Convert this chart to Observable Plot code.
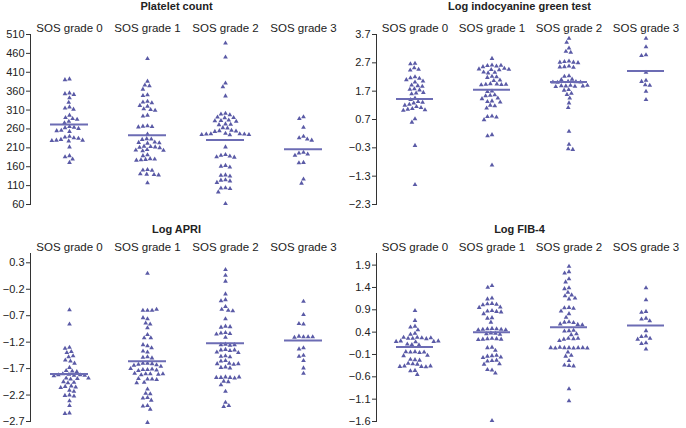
<!DOCTYPE html>
<html><head><meta charset="utf-8">
<script src="https://cdn.jsdelivr.net/npm/d3@7"></script>
<script src="https://cdn.jsdelivr.net/npm/@observablehq/plot@0.6"></script>
<style>
body{margin:0;background:#fff;font-family:"Liberation Sans",Arial,sans-serif;}
#wrap{position:relative;width:686px;height:428px;overflow:hidden;}
.panel{position:absolute;width:343px;height:214px;}
.title{position:absolute;font-weight:bold;font-size:11px;line-height:12px;text-align:center;width:343px;color:#222;}
</style></head><body><div id="wrap"></div>
<script>
const grades = ["SOS grade 0", "SOS grade 1", "SOS grade 2", "SOS grade 3"];

// Platelet count
const plateletG0 = [392,390,355,353,351,342,330,318,315,312,296,290,287,285,280,276,266,264,263,261,256,255,253,240,238,236,235,232,230,230,229,228,212,189,186,180,171];
const plateletG1 = [446,386,376,374,365,350,348,333,331,329,322,320,313,311,309,296,294,268,267,266,265,246,234,233,232,225,224,223,222,214,213,212,211,210,205,204,203,202,191,189,181,180,179,178,177,152,151,150,141,140,139,138,117];
const plateletG2 = [487,450,381,371,347,301,299,297,291,290,289,283,282,281,280,273,272,271,263,262,256,255,254,253,248,247,247,246,246,245,245,244,212,192,190,188,186,185,163,161,159,138,137,135,125,124,122,118,104,103,102,93,62];
const plateletG3 = [292,287,264,240,236,233,230,198,196,193,190,171,170,127,116];
const plateletMeans = [272,243,231,206];
const plateletTicks = [60,110,160,210,260,310,360,410,460,510];

// Log indocyanine green test
const icgG0 = [2.68,2.66,2.52,2.47,2.44,2.20,2.17,2.15,2.10,2.05,2.02,1.91,1.89,1.87,1.78,1.76,1.74,1.65,1.63,1.60,1.45,1.40,1.33,1.30,1.28,1.23,1.20,1.15,1.12,1.08,1.06,1.04,1.02,0.72,0.60,-0.22,-1.60];
const icgG1 = [2.85,2.62,2.60,2.58,2.56,2.61,2.50,2.48,2.46,2.45,2.47,2.36,2.34,2.37,2.22,2.20,2.18,2.09,2.07,1.96,1.95,1.94,1.93,1.92,1.94,1.70,1.68,1.57,1.55,1.53,1.45,1.43,1.35,1.33,1.31,1.20,1.18,1.10,0.82,0.80,0.78,0.69,0.16,0.12,-0.91];
const icgG2 = [3.56,3.42,3.22,3.10,3.07,2.76,2.74,2.72,2.70,2.72,2.58,2.56,2.54,2.55,2.24,2.22,2.12,2.10,2.04,2.03,2.02,2.01,2.02,1.90,1.88,1.87,1.89,1.88,1.86,1.90,1.75,1.73,1.62,1.58,1.45,1.28,1.12,0.28,-0.18,-0.34,-0.36];
const icgG3 = [3.56,3.26,2.98,2.95,2.36,2.08,2.04,1.92,1.90,1.69,1.40];
const icgMeans = [1.42,1.75,2.02,2.41];
const icgTicks = [-2.3,-1.3,-0.3,0.7,1.7,2.7,3.7];

// Log APRI
const apriG0 = [-0.59,-0.86,-1.30,-1.32,-1.38,-1.40,-1.46,-1.48,-1.54,-1.56,-1.60,-1.68,-1.74,-1.75,-1.76,-1.80,-1.81,-1.82,-1.82,-1.83,-1.83,-1.84,-1.88,-1.88,-1.89,-1.90,-1.95,-1.96,-1.97,-2.03,-2.04,-2.05,-2.06,-2.11,-2.13,-2.20,-2.21,-2.22,-2.31,-2.40,-2.54,-2.55];
const apriG1 = [0.10,-0.60,-0.60,-0.60,-0.58,-0.76,-0.74,-0.84,-0.86,-0.93,-1.06,-1.12,-1.12,-1.27,-1.25,-1.31,-1.39,-1.37,-1.48,-1.49,-1.50,-1.60,-1.60,-1.61,-1.62,-1.63,-1.64,-1.66,-1.72,-1.72,-1.71,-1.73,-1.74,-1.70,-1.80,-1.80,-1.81,-1.82,-1.79,-1.80,-1.90,-1.90,-1.89,-1.91,-1.96,-1.97,-2.09,-2.17,-2.18,-2.25,-2.26,-2.30,-2.40,-2.41,-2.47,-2.72];
const apriG2 = [0.17,0.06,-0.05,-0.29,-0.40,-0.42,-0.53,-0.58,-0.60,-0.61,-0.76,-0.90,-0.92,-0.91,-1.02,-1.03,-1.04,-1.05,-1.11,-1.24,-1.25,-1.26,-1.25,-1.34,-1.35,-1.36,-1.35,-1.39,-1.40,-1.46,-1.47,-1.48,-1.55,-1.56,-1.60,-1.61,-1.62,-1.61,-1.67,-1.68,-1.69,-1.86,-1.87,-1.87,-1.88,-1.87,-1.86,-1.94,-1.95,-2.01,-2.13,-2.34,-2.42,-2.40];
const apriG3 = [-0.43,-0.68,-0.86,-0.85,-1.10,-1.09,-1.10,-1.11,-1.10,-1.31,-1.33,-1.45,-1.47,-1.55,-1.69,-1.79];
const apriMeans = [-1.80,-1.56,-1.22,-1.17];
const apriTicks = [-2.7,-2.2,-1.7,-1.2,-0.7,-0.2,0.3];

// Log FIB-4
const fibG0 = [0.88,0.66,0.53,0.51,0.45,0.37,0.35,0.28,0.27,0.26,0.26,0.25,0.28,0.27,0.20,0.19,0.18,0.19,0.20,0.12,0.11,0.13,-0.04,-0.05,-0.06,-0.05,-0.04,-0.13,-0.12,-0.22,-0.21,-0.23,-0.31,-0.30,-0.32,-0.37,-0.36,-0.38,-0.37,-0.36,-0.46,-0.47,-0.55];
const fibG1 = [1.44,1.40,1.16,1.14,1.04,1.03,1.02,1.01,0.96,0.95,0.88,0.87,0.86,0.85,0.81,0.72,0.71,0.62,0.48,0.47,0.47,0.46,0.46,0.45,0.45,0.38,0.37,0.36,0.35,0.26,0.25,0.25,0.24,0.24,0.23,0.06,0.05,-0.01,-0.13,-0.14,-0.12,-0.16,-0.17,-0.24,-0.25,-0.23,-0.31,-0.32,-0.45,-0.44,-0.52,-1.58];
const fibG2 = [1.87,1.75,1.72,1.59,1.52,1.39,1.37,1.29,1.23,1.21,1.16,1.14,0.95,0.94,0.93,0.87,0.81,0.73,0.63,0.62,0.61,0.58,0.57,0.56,0.43,0.42,0.44,0.36,0.34,0.26,0.25,0.24,0.26,0.21,0.05,0.05,0.04,0.05,0.06,0.04,0.05,0.05,0.04,-0.05,-0.12,-0.14,-0.24,-0.35,-0.34,-0.36,-0.87,-1.14];
const fibG3 = [1.39,1.12,0.86,0.84,0.71,0.69,0.65,0.43,0.31,0.30,0.26,0.24,0.16,0.14,0.02];
const fibMeans = [0.07,0.40,0.51,0.55];
const fibTicks = [-1.6,-1.1,-0.6,-0.1,0.4,0.9,1.4,1.9];

const DOT = "#5a5aa6";
const LINE = "#6c6cb4";
const FONT = "'Liberation Sans', Arial, sans-serif";
const fmtInt = d => String(d);
const fmt1 = d => d.toFixed(1).replace("-", "\u2212");

function makePanel(cfg) {
  const data = cfg.groups.flatMap((vals, i) => vals.map(v => ({grade: grades[i], value: v})));
  const means = cfg.means.map((v, i) => ({grade: grades[i], value: v}));
  const chart = Plot.plot({
    width: 343, height: 214,
    marginLeft: cfg.marginLeft, marginRight: 1,
    marginTop: cfg.marginTop, marginBottom: cfg.marginBottom,
    style: {fontFamily: FONT, fontSize: "11px", color: "#222", background: "transparent", overflow: "visible"},
    fx: {domain: grades, padding: 0, axis: null},
    y: {domain: cfg.domain, axis: null},
    marks: [
      Plot.frame({anchor: "left", facetAnchor: "left", stroke: "#333", strokeWidth: 1}),
      Plot.axisY({ticks: cfg.ticks, tickSize: 4, tickPadding: 2, tickFormat: cfg.format, label: null, fontSize: 11, stroke: "#333"}),
      Plot.axisFx({anchor: "top", tickSize: 0, tickPadding: 3, label: null, fontSize: 11.5}),
      Plot.dot(data, Plot.dodgeX({anchor: "middle", padding: 1.1}, {fx: "grade", y: "value", r: 1.75, symbol: "triangle", fill: DOT, stroke: "none"})),
      Plot.tickY(means, {fx: "grade", y: "value", stroke: LINE, strokeWidth: 2, insetLeft: 20, insetRight: 20})
    ]
  });
  const div = document.createElement("div");
  div.className = "panel";
  div.style.left = cfg.left + "px";
  div.style.top = cfg.top + "px";
  div.appendChild(chart);
  const t = document.createElement("div");
  t.className = "title";
  t.textContent = cfg.title;
  t.style.left = (cfg.left + 5) + "px";
  t.style.top = cfg.titleTop + "px";
  const wrap = document.getElementById("wrap");
  wrap.appendChild(div);
  wrap.appendChild(t);
}

makePanel({left: 0, top: 0, titleTop: 0, title: "Platelet count",
  groups: [plateletG0, plateletG1, plateletG2, plateletG3], means: plateletMeans,
  ticks: plateletTicks, format: fmtInt, domain: [60, 510], marginLeft: 30, marginTop: 34, marginBottom: 10});
makePanel({left: 343, top: 0, titleTop: 0, title: "Log indocyanine green test",
  groups: [icgG0, icgG1, icgG2, icgG3], means: icgMeans,
  ticks: icgTicks, format: fmt1, domain: [-2.3, 3.7], marginLeft: 32, marginTop: 34, marginBottom: 10});
makePanel({left: 0, top: 214, titleTop: 223, title: "Log APRI",
  groups: [apriG0, apriG1, apriG2, apriG3], means: apriMeans,
  ticks: apriTicks, format: fmt1, domain: [-2.7, 0.476], marginLeft: 30, marginTop: 39, marginBottom: 7});
makePanel({left: 343, top: 214, titleTop: 223, title: "Log FIB-4",
  groups: [fibG0, fibG1, fibG2, fibG3], means: fibMeans,
  ticks: fibTicks, format: fmt1, domain: [-1.6, 2.16], marginLeft: 32, marginTop: 39, marginBottom: 7});
</script></body></html>
